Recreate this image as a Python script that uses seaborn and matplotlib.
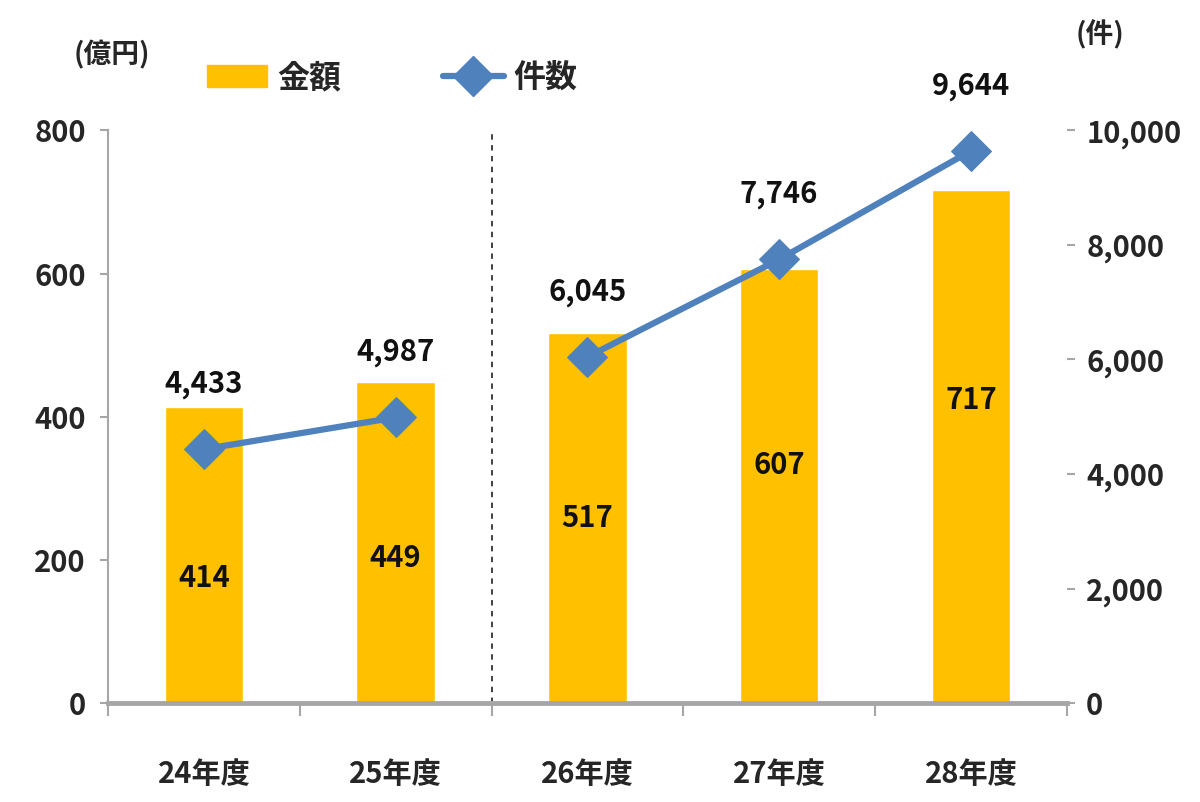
import numpy as np
import pandas as pd
import seaborn as sns
import matplotlib.pyplot as plt
from matplotlib.patches import Patch
from matplotlib.lines import Line2D

# data
years = ['24年度', '25年度', '26年度', '27年度', '28年度']
amounts = [414, 449, 517, 607, 717]          # 金額 (億円)
counts = [4433, 4987, 6045, 7746, 9644]      # 件数 (件)
# line is broken at the 25/26 boundary
segments = [0, 0, 1, 1, 1]

bar_color = '#FFC000'
line_color = '#4F81BD'
gray = '#A6A6A6'

sns.set_theme(style='white')
plt.rcParams['font.family'] = ['Noto Sans CJK JP', 'DejaVu Sans']
plt.rcParams['font.weight'] = 'bold'

df = pd.DataFrame({'year': years, 'amount': amounts, 'count': counts,
                   'seg': segments, 'pos': np.arange(len(years))})

fig = plt.figure(figsize=(12, 8.02), dpi=100)
ax = fig.add_axes([0.09, 0.1234, 0.799, 0.714])

sns.barplot(data=df, x='year', y='amount', color=bar_color, width=0.41,
            saturation=1, ax=ax, zorder=2)
ax.set_ylim(0, 800)
ax.set_xlim(-0.5, 4.5)
ax.set_yticks([0, 200, 400, 600, 800])
ax.set_xlabel('')
ax.set_ylabel('')

# bar value labels (placed inside bars, a bit below centre like the original)
for i, v in enumerate(amounts):
    ax.text(i, 0.82 * v - 165, f'{v}', ha='center', va='center', fontsize=21,
            color='#111111', zorder=5)

# x ticks between categories
ax.set_xticks(np.arange(5))
ax.set_xticklabels(years, fontsize=21, fontweight='bold')
ax.set_xticks(np.arange(-0.5, 5, 1), minor=True)
ax.tick_params(axis='x', which='major', length=0, pad=40)
ax.tick_params(axis='x', which='minor', length=9, width=1.5, color=gray,
               direction='out', bottom=True)
ax.tick_params(axis='y', labelsize=21, length=6, width=1.5, color=gray,
               left=True, direction='out', pad=10)

for s in ['top', 'right']:
    ax.spines[s].set_visible(False)
ax.spines['left'].set_color(gray)
ax.spines['left'].set_linewidth(1.5)
ax.spines['bottom'].set_color(gray)
ax.spines['bottom'].set_linewidth(3.5)

# dashed separator between 25年度 and 26年度
ax.axvline(1.5, ymin=0, ymax=1, color='#333333', lw=1.3, ls=(0, (3, 3)), zorder=1)

ax2 = ax.twinx()
for seg, part in df.groupby('seg'):
    sns.lineplot(data=part, x='pos', y='count', ax=ax2, color=line_color, lw=4.5,
                 marker='D', markersize=20, markeredgecolor=line_color, zorder=4)
ax2.set_ylim(0, 10000)
ax2.set_yticks([0, 2000, 4000, 6000, 8000, 10000])
ax2.set_yticklabels([f'{t:,}' for t in [0, 2000, 4000, 6000, 8000, 10000]])
ax2.tick_params(axis='y', labelsize=21, length=6, width=1.5, color=gray,
                right=True, direction='out', pad=8)
ax2.set_xlabel('')
ax2.set_ylabel('')
for s in ['top', 'right', 'left', 'bottom']:
    ax2.spines[s].set_visible(False)

for i, c in enumerate(counts):
    ax2.annotate(f'{c:,}', (i, c), xytext=(0, 36), textcoords='offset points',
                 ha='center', va='bottom', fontsize=21, color='#111111')

# unit labels
fig.text(112 / 1200, 1 - 55 / 802, '(億円)', ha='center', va='center', fontsize=20)
fig.text(1100 / 1200, 1 - 35 / 802, '(件)', ha='center', va='center', fontsize=20)

handles = [Patch(facecolor=bar_color, edgecolor=bar_color, label='金額'),
           Line2D([0], [0], color=line_color, lw=4.5, marker='D', markersize=20,
                  label='件数')]
fig.legend(handles=handles, loc='center', bbox_to_anchor=(392 / 1200, 1 - 78 / 802),
           ncol=2, frameon=False, fontsize=23, handlelength=1.9, handletextpad=0.3,
           columnspacing=3.2)

fig.savefig('out.png', dpi=100)
